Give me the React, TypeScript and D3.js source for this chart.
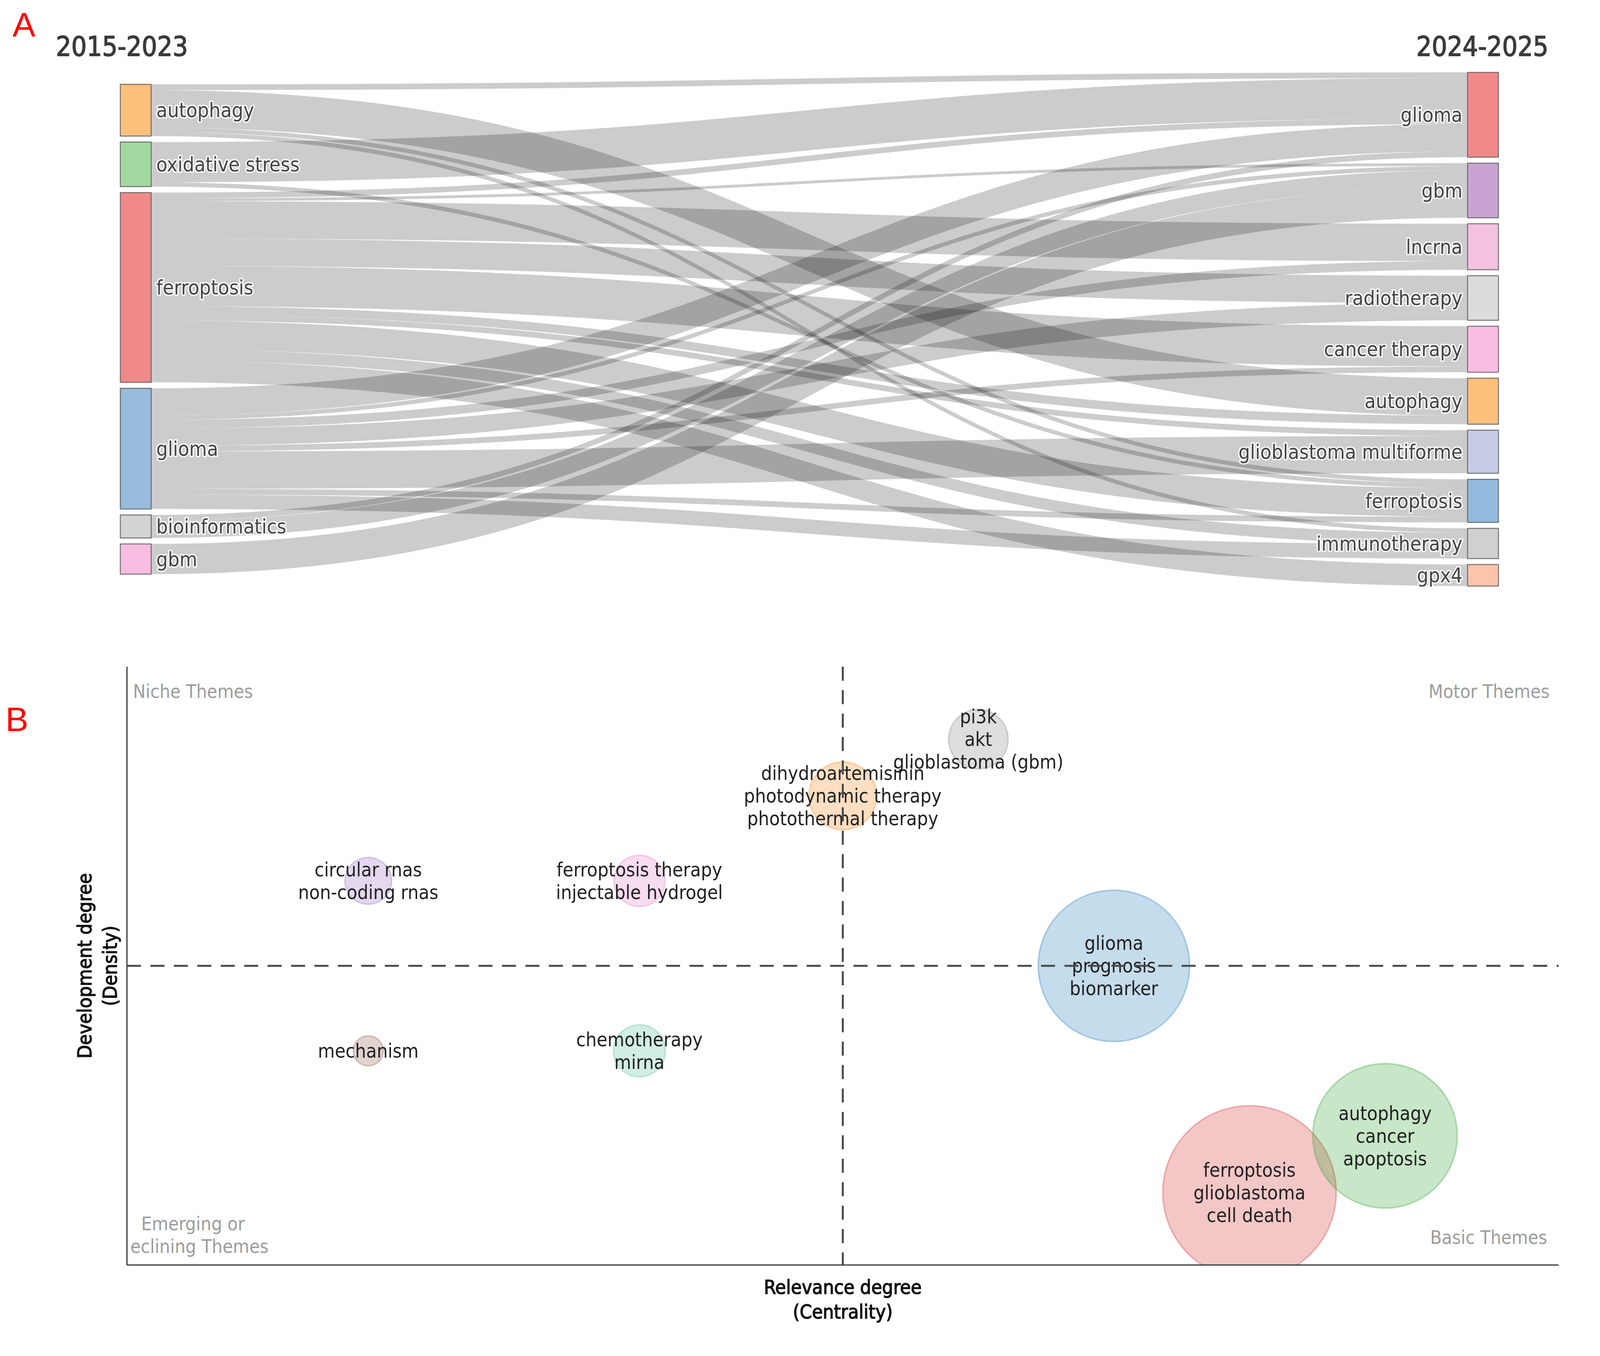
import React, { useEffect } from 'react';
import * as d3 from 'd3';

const W = 4212;
const H = 3472;

// ---------- Panel A: thematic evolution ----------
const periodLabels = ['2015-2023', '2024-2025'];
const leftTerms = ['autophagy', 'oxidative stress', 'ferroptosis', 'glioma', 'bioinformatics', 'gbm'];
const rightTerms = [
  'glioma', 'gbm', 'lncrna', 'radiotherapy', 'cancer therapy',
  'autophagy', 'glioblastoma multiforme', 'ferroptosis', 'immunotherapy', 'gpx4',
];
// [left term, right term, weight]
const flows: [number, number, number][] = [
  [0, 0, 2], [0, 5, 13], [0, 7, 1.5], [0, 8, 1.5],
  [1, 0, 14], [1, 7, 1.5],
  [2, 0, 2], [2, 1, 1], [2, 2, 13], [2, 3, 9.5], [2, 4, 14], [2, 5, 3], [2, 6, 2], [2, 7, 10], [2, 8, 4], [2, 9, 7.5],
  [3, 0, 9.5], [3, 1, 1.5], [3, 2, 3], [3, 3, 6], [3, 4, 2], [3, 6, 13], [3, 7, 2], [3, 8, 5],
  [4, 0, 2], [4, 1, 6],
  [5, 1, 10.5],
];
const leftColors = ['#fdbf7c', '#a3d7a0', '#f08a8a', '#97bcdc', '#d3d3d3', '#f8bde0'];
const rightColors = ['#f08a8a', '#c9a3d3', '#f2c2e0', '#dcdcdc', '#f9bde2', '#fdbf7c', '#c6cbe6', '#92badc', '#d0d0d0', '#fbc4ab'];

// ---------- Panel B: thematic map ----------
const themeLabels = [
  ['circular rnas', 'non-coding rnas'],
  ['ferroptosis therapy', 'injectable hydrogel'],
  ['mechanism'],
  ['chemotherapy', 'mirna'],
  ['dihydroartemisinin', 'photodynamic therapy', 'photothermal therapy'],
  ['pi3k', 'akt', 'glioblastoma (gbm)'],
  ['glioma', 'prognosis', 'biomarker'],
  ['ferroptosis', 'glioblastoma', 'cell death'],
  ['autophagy', 'cancer', 'apoptosis'],
];
const themeCentrality = [1.5, 3.5, 1.5, 3.5, 5, 6, 7, 8, 9];
const themeDensity = [6.5, 6.5, 3.5, 3.5, 8, 9, 5, 1, 2];
const themeFreq = [29, 35, 12, 36, 61, 47, 305, 400, 278];
const themeColors = ['#9467bd', '#e377c2', '#8c564b', '#52bf95', '#ff7f0e', '#7f7f7f', '#1f77b4', '#d62728', '#2ca02c'];
const rankExtent = [-0.28, 10.28];
const medianRank = 5;

const condensed = "'DejaVu Sans Condensed', 'DejaVu Sans', sans-serif";

const App = () => {
  useEffect(() => {
    document.body.style.margin = '0';
  }, []);

  // ---- sankey layout ----
  const nodeW = 79;
  const leftX = 308;
  const rightX = 3757;
  const pad = 15.3;
  const midY = 843;
  const hScale = d3.scaleLinear().domain([0, 1]).range([0, 7.36]);

  const leftVals = leftTerms.map((_, i) => d3.sum(flows.filter(f => f[0] === i), f => f[2]));
  const rightVals = rightTerms.map((_, j) => d3.sum(flows.filter(f => f[1] === j), f => f[2]));

  const stack = (vals: number[]) => {
    const total = hScale(d3.sum(vals)) + pad * (vals.length - 1);
    let y = midY - total / 2;
    return vals.map(v => {
      const y0 = y;
      const y1 = y + hScale(v);
      y = y1 + pad;
      return { y0, y1 };
    });
  };
  const leftPos = stack(leftVals);
  const rightPos = stack(rightVals);

  // link offsets: ordered by the other end's position
  const srcOff = leftPos.map(p => p.y0);
  const tgtOff = rightPos.map(p => p.y0);
  const srcY = new Map<string, number>();
  [...flows].sort((a, b) => a[0] - b[0] || a[1] - b[1]).forEach(f => {
    srcY.set(`${f[0]}-${f[1]}`, srcOff[f[0]]);
    srcOff[f[0]] += hScale(f[2]);
  });
  const tgtY = new Map<string, number>();
  [...flows].sort((a, b) => a[1] - b[1] || a[0] - b[0]).forEach(f => {
    tgtY.set(`${f[0]}-${f[1]}`, tgtOff[f[1]]);
    tgtOff[f[1]] += hScale(f[2]);
  });

  const x0 = leftX + nodeW;
  const x1 = rightX;
  const cx = d3.interpolateNumber(x0, x1)(0.5);
  const linkPath = (f: [number, number, number]) => {
    const k = `${f[0]}-${f[1]}`;
    const s0 = srcY.get(k)!;
    const t0 = tgtY.get(k)!;
    const w = hScale(f[2]);
    const s1 = s0 + w;
    const t1 = t0 + w;
    return `M${x0},${s0}C${cx},${s0} ${cx},${t0} ${x1},${t0}L${x1},${t1}C${cx},${t1} ${cx},${s1} ${x0},${s1}Z`;
  };

  // ---- thematic map scales ----
  const plotL = 325;
  const plotR = 3990;
  const plotT = 1707;
  const plotB = 3239;
  const xScale = d3.scaleLinear().domain(rankExtent).range([plotL, plotR]);
  const yScale = d3.scaleLinear().domain(rankExtent).range([plotB, plotT]);
  const rScale = d3.scaleSqrt().domain([0, 400]).range([0, 222]);
  const lineGap = 58;

  const labelStyle = {
    fontFamily: condensed,
    fontStretch: 'condensed' as const,
  };

  return (
    <svg
      width={W}
      height={H}
      viewBox={`0 0 ${W} ${H}`}
      style={{ display: 'block', position: 'absolute', left: 0, top: 0, background: '#fff' }}
    >
      <rect x={0} y={0} width={W} height={H} fill="#fff" />
      <defs>
        <clipPath id="plotClip">
          <rect x={plotL} y={plotT} width={plotR - plotL} height={plotB - plotT} />
        </clipPath>
        <clipPath id="textClip">
          <rect x={plotL + 11} y={plotT} width={plotR - plotL - 11} height={plotB - plotT} />
        </clipPath>
      </defs>

      {/* Panel letters */}
      <text x={32} y={94} fontSize={88} fill="#ff0000" fontFamily="'Liberation Sans', Arial, sans-serif">A</text>
      <text x={14} y={1872} fontSize={88} fill="#ff0000" fontFamily="'Liberation Sans', Arial, sans-serif">B</text>

      {/* Period titles */}
      <text x={143} y={143} fontSize={69} fill="#3a3a3a" stroke="#3a3a3a" strokeWidth={1.8} style={labelStyle}>
        {periodLabels[0]}
      </text>
      <text x={3964} y={143} fontSize={69} fill="#3a3a3a" stroke="#3a3a3a" strokeWidth={1.8} textAnchor="end" style={labelStyle}>
        {periodLabels[1]}
      </text>

      {/* Links */}
      <g>
        {flows.map((f, i) => (
          <path key={i} d={linkPath(f)} fill="rgba(0,0,0,0.2)" />
        ))}
      </g>

      {/* Nodes */}
      <g>
        {leftTerms.map((t, i) => (
          <rect key={`l${i}`} x={leftX} y={leftPos[i].y0} width={nodeW} height={leftPos[i].y1 - leftPos[i].y0}
            fill={leftColors[i]} stroke="#555" strokeOpacity={0.8} strokeWidth={2.5} />
        ))}
        {rightTerms.map((t, i) => (
          <rect key={`r${i}`} x={rightX} y={rightPos[i].y0} width={nodeW} height={rightPos[i].y1 - rightPos[i].y0}
            fill={rightColors[i]} stroke="#555" strokeOpacity={0.8} strokeWidth={2.5} />
        ))}
      </g>

      {/* Node labels */}
      <g fontSize={52} fill="#444" style={labelStyle}>
        {leftTerms.map((t, i) => (
          <text key={`lt${i}`} x={leftX + nodeW + 13} y={(leftPos[i].y0 + leftPos[i].y1) / 2} dy="0.35em"
            stroke="#fff" strokeWidth={7} strokeOpacity={0.85} paintOrder="stroke" strokeLinejoin="round">
            {t}
          </text>
        ))}
        {rightTerms.map((t, i) => (
          <text key={`rt${i}`} x={rightX - 13} y={(rightPos[i].y0 + rightPos[i].y1) / 2} dy="0.35em" textAnchor="end"
            stroke="#fff" strokeWidth={7} strokeOpacity={0.85} paintOrder="stroke" strokeLinejoin="round">
            {t}
          </text>
        ))}
      </g>

      {/* ---------- Panel B ---------- */}
      <g clipPath="url(#plotClip)">
        {themeLabels.map((lab, i) => (
          <circle key={`c${i}`} cx={xScale(themeCentrality[i])} cy={yScale(themeDensity[i])} r={rScale(themeFreq[i])}
            fill={themeColors[i]} fillOpacity={0.26} stroke={themeColors[i]} strokeOpacity={0.3} strokeWidth={4} />
        ))}
      </g>

      {/* quadrant names */}
      <g clipPath="url(#textClip)" fontSize={48} fill="#9c9c9c" textAnchor="middle" style={labelStyle}>
        <text x={494} y={1787}>Niche Themes</text>
        <text x={3812} y={1787}>Motor Themes</text>
        <text x={494} y={3150}>Emerging or</text>
        <text x={494} y={3208}>Declining Themes</text>
        <text x={3811} y={3185}>Basic Themes</text>
      </g>

      {/* theme labels */}
      <g fontSize={49.5} fill="#222" textAnchor="middle" style={labelStyle}>
        {themeLabels.map((lab, i) => (
          <text key={`t${i}`} x={xScale(themeCentrality[i])} y={yScale(themeDensity[i])}>
            {lab.map((s, k) => (
              <tspan key={k} x={xScale(themeCentrality[i])}
                y={yScale(themeDensity[i]) + (k - (lab.length - 1) / 2) * lineGap} dy="0.35em">
                {s}
              </tspan>
            ))}
          </text>
        ))}
      </g>

      {/* axes */}
      <line x1={plotL} x2={plotL} y1={plotT} y2={plotB} stroke="#333" strokeWidth={3} />
      <line x1={plotL} x2={plotR} y1={plotB} y2={plotB} stroke="#333" strokeWidth={3} />

      {/* median lines */}
      <line x1={xScale(medianRank)} x2={xScale(medianRank)} y1={plotT} y2={plotB}
        stroke="#4a4a4a" strokeWidth={5} strokeDasharray="36,24" />
      <line x1={plotL} x2={plotR} y1={yScale(medianRank)} y2={yScale(medianRank)}
        stroke="#4a4a4a" strokeWidth={5} strokeDasharray="36,24" />

      {/* axis titles */}
      <g fontSize={50} fill="#111" stroke="#111" strokeWidth={1.6} textAnchor="middle" style={labelStyle}>
        <text x={xScale(medianRank)} y={3313}>Relevance degree</text>
        <text x={xScale(medianRank)} y={3376}>(Centrality)</text>
        <g transform={`translate(216, ${yScale(medianRank)}) rotate(-90)`}>
          <text x={0} y={0} dy="0.35em">Development degree</text>
        </g>
        <g transform={`translate(281, ${yScale(medianRank)}) rotate(-90)`}>
          <text x={0} y={0} dy="0.35em">(Density)</text>
        </g>
      </g>
    </svg>
  );
};

export default App;
